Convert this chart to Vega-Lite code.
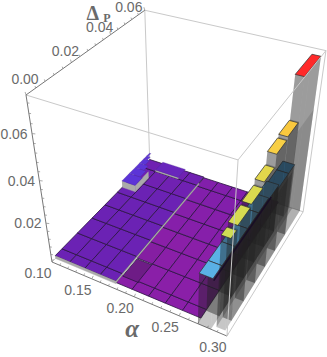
{"$schema":"https://vega.github.io/schema/vega-lite/v6.json","width":327,"height":357,"padding":0,"autosize":"none","background":"white","config":{"view":{"stroke":null}},
"datasets":{
"edgesLight":[{"e":1,"alpha":0.1,"P":0,"delta":0.075},{"e":1,"alpha":0.3,"P":0,"delta":0.075},{"e":2,"alpha":0.1,"P":0.06,"delta":0.075},{"e":2,"alpha":0.3,"P":0.06,"delta":0.075},{"e":3,"alpha":0.1,"P":0.06,"delta":0.075},{"e":3,"alpha":0.1,"P":0.06,"delta":0},{"e":4,"alpha":0.1,"P":0,"delta":0},{"e":4,"alpha":0.1,"P":0.06,"delta":0},{"e":5,"alpha":0.1,"P":0.06,"delta":0},{"e":5,"alpha":0.3,"P":0.06,"delta":0}],
"edgesFront":[{"e":1,"alpha":0.3,"P":0,"delta":0.075},{"e":1,"alpha":0.3,"P":0.06,"delta":0.075},{"e":2,"alpha":0.3,"P":0.06,"delta":0.075},{"e":2,"alpha":0.3,"P":0.06,"delta":0},{"e":3,"alpha":0.3,"P":0.06,"delta":0},{"e":3,"alpha":0.3,"P":0,"delta":0},{"e":4,"alpha":0.3,"P":0,"delta":0},{"e":4,"alpha":0.3,"P":0,"delta":0.075}],
"edgesAxis":[{"e":1,"alpha":0.1,"P":0,"delta":0.075},{"e":1,"alpha":0.1,"P":0.06,"delta":0.075},{"e":2,"alpha":0.1,"P":0,"delta":0.075},{"e":2,"alpha":0.1,"P":0,"delta":0},{"e":3,"alpha":0.1,"P":0,"delta":0},{"e":3,"alpha":0.3,"P":0,"delta":0}],
"darkEdge":[{"alpha":0.2836,"P":0.0005,"delta":0.0235},{"alpha":0.2836,"P":0.04,"delta":0.0235}],
"ticks":[
{"axis":"P","value":0,"major":true,"label":"0.00"},{"axis":"P","value":0.004,"major":false},{"axis":"P","value":0.008,"major":false},{"axis":"P","value":0.012,"major":false},{"axis":"P","value":0.016,"major":false},{"axis":"P","value":0.02,"major":true,"label":"0.02"},{"axis":"P","value":0.024,"major":false},{"axis":"P","value":0.028,"major":false},{"axis":"P","value":0.032,"major":false},{"axis":"P","value":0.036,"major":false},{"axis":"P","value":0.04,"major":true,"label":"0.04"},{"axis":"P","value":0.044,"major":false},{"axis":"P","value":0.048,"major":false},{"axis":"P","value":0.052,"major":false},{"axis":"P","value":0.056,"major":false},{"axis":"P","value":0.06,"major":true,"label":"0.06"},
{"axis":"z","value":0.004,"major":false},{"axis":"z","value":0.008,"major":false},{"axis":"z","value":0.012,"major":false},{"axis":"z","value":0.016,"major":false},{"axis":"z","value":0.02,"major":true,"label":"0.02"},{"axis":"z","value":0.024,"major":false},{"axis":"z","value":0.028,"major":false},{"axis":"z","value":0.032,"major":false},{"axis":"z","value":0.036,"major":false},{"axis":"z","value":0.04,"major":true,"label":"0.04"},{"axis":"z","value":0.044,"major":false},{"axis":"z","value":0.048,"major":false},{"axis":"z","value":0.052,"major":false},{"axis":"z","value":0.056,"major":false},{"axis":"z","value":0.06,"major":true,"label":"0.06"},{"axis":"z","value":0.064,"major":false},{"axis":"z","value":0.068,"major":false},{"axis":"z","value":0.072,"major":false},
{"axis":"alpha","value":0.1,"major":true,"label":"0.10"},{"axis":"alpha","value":0.11,"major":false},{"axis":"alpha","value":0.12,"major":false},{"axis":"alpha","value":0.13,"major":false},{"axis":"alpha","value":0.14,"major":false},{"axis":"alpha","value":0.15,"major":true,"label":"0.15"},{"axis":"alpha","value":0.16,"major":false},{"axis":"alpha","value":0.17,"major":false},{"axis":"alpha","value":0.18,"major":false},{"axis":"alpha","value":0.19,"major":false},{"axis":"alpha","value":0.2,"major":true,"label":"0.20"},{"axis":"alpha","value":0.21,"major":false},{"axis":"alpha","value":0.22,"major":false},{"axis":"alpha","value":0.23,"major":false},{"axis":"alpha","value":0.24,"major":false},{"axis":"alpha","value":0.25,"major":true,"label":"0.25"},{"axis":"alpha","value":0.26,"major":false},{"axis":"alpha","value":0.27,"major":false},{"axis":"alpha","value":0.28,"major":false},{"axis":"alpha","value":0.29,"major":false},{"axis":"alpha","value":0.3,"major":true,"label":"0.30"}],
"surface":[
{"a0":0.1,"a1":0.1188,"p0":0.0018,"p1":0.0054,"z":0.0014},{"a0":0.1188,"a1":0.1376,"p0":0.0018,"p1":0.0054,"z":0.0014},{"a0":0.1376,"a1":0.1564,"p0":0.0018,"p1":0.0054,"z":0.0014},{"a0":0.1564,"a1":0.1752,"p0":0.0018,"p1":0.0054,"z":0.0014},{"a0":0.1752,"a1":0.194,"p0":0.0018,"p1":0.0054,"z":0.0007},{"a0":0.194,"a1":0.2128,"p0":0.0018,"p1":0.0054,"z":0.0007},{"a0":0.2128,"a1":0.2316,"p0":0.0018,"p1":0.0054,"z":0.0007},{"a0":0.2316,"a1":0.2504,"p0":0.0018,"p1":0.0054,"z":0.0007},{"a0":0.2504,"a1":0.27,"p0":0.0018,"p1":0.0054,"z":0.0007},
{"a0":0.1,"a1":0.1188,"p0":0.0054,"p1":0.0138,"z":0.0014},{"a0":0.1188,"a1":0.1376,"p0":0.0054,"p1":0.0138,"z":0.0014},{"a0":0.1376,"a1":0.1564,"p0":0.0054,"p1":0.0138,"z":0.0014},{"a0":0.1564,"a1":0.1752,"p0":0.0054,"p1":0.0138,"z":0.0014},{"a0":0.1752,"a1":0.194,"p0":0.0054,"p1":0.0138,"z":0.0001},{"a0":0.194,"a1":0.2128,"p0":0.0054,"p1":0.0138,"z":0.0007},{"a0":0.2128,"a1":0.2316,"p0":0.0054,"p1":0.0138,"z":0.0007},{"a0":0.2316,"a1":0.2504,"p0":0.0054,"p1":0.0138,"z":0.0007},{"a0":0.2504,"a1":0.27,"p0":0.0054,"p1":0.0138,"z":0.0007},
{"a0":0.1,"a1":0.1188,"p0":0.0138,"p1":0.0222,"z":0.0014},{"a0":0.1188,"a1":0.1376,"p0":0.0138,"p1":0.0222,"z":0.0014},{"a0":0.1376,"a1":0.1564,"p0":0.0138,"p1":0.0222,"z":0.0014},{"a0":0.1564,"a1":0.1752,"p0":0.0138,"p1":0.0222,"z":0.0014},{"a0":0.1752,"a1":0.194,"p0":0.0138,"p1":0.0222,"z":0.0006},{"a0":0.194,"a1":0.2128,"p0":0.0138,"p1":0.0222,"z":0.0007},{"a0":0.2128,"a1":0.2316,"p0":0.0138,"p1":0.0222,"z":0.0007},{"a0":0.2316,"a1":0.2504,"p0":0.0138,"p1":0.0222,"z":0.0007},{"a0":0.2504,"a1":0.27,"p0":0.0138,"p1":0.0222,"z":0.0007},
{"a0":0.1,"a1":0.1188,"p0":0.0222,"p1":0.03,"z":0.0014},{"a0":0.1188,"a1":0.1376,"p0":0.0222,"p1":0.03,"z":0.0014},{"a0":0.1376,"a1":0.1564,"p0":0.0222,"p1":0.03,"z":0.0014},{"a0":0.1564,"a1":0.1752,"p0":0.0222,"p1":0.03,"z":0.0014},{"a0":0.1752,"a1":0.194,"p0":0.0222,"p1":0.03,"z":0.0007},{"a0":0.194,"a1":0.2128,"p0":0.0222,"p1":0.03,"z":0.0007},{"a0":0.2128,"a1":0.2316,"p0":0.0222,"p1":0.03,"z":0.0007},{"a0":0.2316,"a1":0.2504,"p0":0.0222,"p1":0.03,"z":0.0007},{"a0":0.2504,"a1":0.27,"p0":0.0222,"p1":0.03,"z":0.0007},
{"a0":0.1,"a1":0.1188,"p0":0.03,"p1":0.0378,"z":0.0014},{"a0":0.1188,"a1":0.1376,"p0":0.03,"p1":0.0378,"z":0.0014},{"a0":0.1376,"a1":0.1564,"p0":0.03,"p1":0.0378,"z":0.0014},{"a0":0.1564,"a1":0.1752,"p0":0.03,"p1":0.0378,"z":0.0014},{"a0":0.1752,"a1":0.194,"p0":0.03,"p1":0.0378,"z":0.0008},{"a0":0.194,"a1":0.2128,"p0":0.03,"p1":0.0378,"z":0.0008},{"a0":0.2128,"a1":0.2316,"p0":0.03,"p1":0.0378,"z":0.0008},{"a0":0.2316,"a1":0.2504,"p0":0.03,"p1":0.0378,"z":0.0008},{"a0":0.2504,"a1":0.27,"p0":0.03,"p1":0.0378,"z":0.0008},
{"a0":0.1,"a1":0.1188,"p0":0.0378,"p1":0.0462,"z":0.0014},{"a0":0.1188,"a1":0.1376,"p0":0.0378,"p1":0.0462,"z":0.0014},{"a0":0.1376,"a1":0.1564,"p0":0.0378,"p1":0.0462,"z":0.0014},{"a0":0.1564,"a1":0.1752,"p0":0.0378,"p1":0.0462,"z":0.0014},{"a0":0.1752,"a1":0.194,"p0":0.0378,"p1":0.0462,"z":0.0008},{"a0":0.194,"a1":0.2128,"p0":0.0378,"p1":0.0462,"z":0.0008},{"a0":0.2128,"a1":0.2316,"p0":0.0378,"p1":0.0462,"z":0.0008},{"a0":0.2316,"a1":0.2504,"p0":0.0378,"p1":0.0462,"z":0.0008},{"a0":0.2504,"a1":0.27,"p0":0.0378,"p1":0.0462,"z":0.0008},
{"a0":0.1,"a1":0.1188,"p0":0.0462,"p1":0.0546,"z":0.0013},{"a0":0.1188,"a1":0.1376,"p0":0.0462,"p1":0.0546,"z":0.0013},{"a0":0.1376,"a1":0.1564,"p0":0.0462,"p1":0.0546,"z":0.0013},{"a0":0.1564,"a1":0.1752,"p0":0.0462,"p1":0.0546,"z":0.0013},{"a0":0.1752,"a1":0.194,"p0":0.0462,"p1":0.0546,"z":0.0009},{"a0":0.194,"a1":0.2128,"p0":0.0462,"p1":0.0546,"z":0.0009},{"a0":0.2128,"a1":0.2316,"p0":0.0462,"p1":0.0546,"z":0.0009},{"a0":0.2316,"a1":0.2504,"p0":0.0462,"p1":0.0546,"z":0.0009},{"a0":0.2504,"a1":0.27,"p0":0.0462,"p1":0.0546,"z":0.0009},
{"a0":0.1,"a1":0.1188,"p0":0.0546,"p1":0.06,"z":0.0013},{"a0":0.1188,"a1":0.1376,"p0":0.0546,"p1":0.06,"z":0.0013},{"a0":0.1376,"a1":0.1564,"p0":0.0546,"p1":0.06,"z":0.0013},{"a0":0.1564,"a1":0.1752,"p0":0.0546,"p1":0.06,"z":0.0013},{"a0":0.1752,"a1":0.194,"p0":0.0546,"p1":0.06,"z":0.0009},{"a0":0.194,"a1":0.2128,"p0":0.0546,"p1":0.06,"z":0.0009},{"a0":0.2128,"a1":0.2316,"p0":0.0546,"p1":0.06,"z":0.0009},{"a0":0.2316,"a1":0.2504,"p0":0.0546,"p1":0.06,"z":0.0009},{"a0":0.2504,"a1":0.27,"p0":0.0546,"p1":0.06,"z":0.0009}],
"skirts":[
{"a0":0.1,"a1":0.1752,"p0":0.0018,"p1":0.0018,"z0":0,"z1":0.0014},
{"a0":0.1752,"a1":0.1752,"p0":0.0018,"p1":0.056,"z0":0.0006,"z1":0.0014},
{"a0":0.1,"a1":0.118,"p0":0.041,"p1":0.041,"z0":0.0014,"z1":0.0049},
{"a0":0.118,"a1":0.118,"p0":0.041,"p1":0.05,"z0":0.0014,"z1":0.0049},
{"a0":0.1188,"a1":0.15,"p0":0.0546,"p1":0.0546,"z0":0.0013,"z1":0.0022}],
"shade":[
{"a0":0.2836,"a1":0.2836,"p0":0.0054,"p1":0.046,"z0":0,"z1":0.025,"o":0.5},
{"a0":0.296,"a1":0.296,"p0":0.0054,"p1":0.046,"z0":0,"z1":0.032,"o":0.3},
{"a0":0.296,"a1":0.296,"p0":0.046,"p1":0.06,"z0":0,"z1":0.05,"o":0.12}],
"raised":[
{"a0":0.1,"a1":0.118,"p0":0.041,"p1":0.046,"z":0.0049},{"a0":0.1,"a1":0.115,"p0":0.046,"p1":0.05,"z":0.0049},{"a0":0.1,"a1":0.112,"p0":0.05,"p1":0.053,"z":0.0049},{"a0":0.1,"a1":0.108,"p0":0.053,"p1":0.056,"z":0.0049},{"a0":0.1,"a1":0.105,"p0":0.056,"p1":0.058,"z":0.0049},{"a0":0.1,"a1":0.102,"p0":0.058,"p1":0.06,"z":0.0049},{"a0":0.1188,"a1":0.15,"p0":0.0546,"p1":0.06,"z":0.0022}],
"bars":[
{"a0":0.27,"a1":0.2836,"p0":0.0546,"p1":0.06,"z":0.0225},{"a0":0.27,"a1":0.2836,"p0":0.0462,"p1":0.0546,"z":0.0225},{"a0":0.27,"a1":0.2836,"p0":0.0378,"p1":0.0462,"z":0.024},{"a0":0.27,"a1":0.2836,"p0":0.03,"p1":0.0378,"z":0.025},{"a0":0.27,"a1":0.2836,"p0":0.0222,"p1":0.03,"z":0.025},{"a0":0.27,"a1":0.2836,"p0":0.0138,"p1":0.0222,"z":0.025},{"a0":0.27,"a1":0.2836,"p0":0.0054,"p1":0.0138,"z":0.025},{"a0":0.27,"a1":0.2836,"p0":0,"p1":0.0054,"z":0.025},
{"a0":0.287,"a1":0.296,"p0":0.0465,"p1":0.06,"z":0.0724},{"a0":0.287,"a1":0.296,"p0":0.0378,"p1":0.0465,"z":0.0541},{"a0":0.287,"a1":0.296,"p0":0.0298,"p1":0.0378,"z":0.053},{"a0":0.287,"a1":0.296,"p0":0.022,"p1":0.0298,"z":0.0478},{"a0":0.287,"a1":0.296,"p0":0.0138,"p1":0.022,"z":0.0457},{"a0":0.287,"a1":0.296,"p0":0.0055,"p1":0.0138,"z":0.0447},{"a0":0.287,"a1":0.296,"p0":0.0015,"p1":0.0055,"z":0.0432}]
},
"layer":[
{"data":{"name":"edgesLight"},"transform":[
{"calculate":"(datum.alpha-0.1)/0.2","as":"u"},{"calculate":"datum.P/0.06","as":"v"},{"calculate":"datum.delta/0.075","as":"w"},
{"calculate":"1-0.114*datum.u+0.197*datum.v-0.169*datum.w","as":"d"},
{"calculate":"52+(155*datum.u+117*datum.v-21.6*datum.w)/datum.d","as":"px"},
{"calculate":"262+(65.6*datum.u-120*datum.v-138.8*datum.w)/datum.d","as":"py"}],
"mark":{"type":"line","stroke":"#c9c9c9","strokeWidth":1},
"encoding":{"x":{"field":"px","type":"quantitative","scale":{"domain":[0,327],"nice":false,"zero":false},"axis":null},"y":{"field":"py","type":"quantitative","scale":{"domain":[357,0],"nice":false,"zero":false},"axis":null},"detail":{"field":"e"}}},
{"data":{"name":"edgesAxis"},"transform":[
{"calculate":"(datum.alpha-0.1)/0.2","as":"u"},{"calculate":"datum.P/0.06","as":"v"},{"calculate":"datum.delta/0.075","as":"w"},
{"calculate":"1-0.114*datum.u+0.197*datum.v-0.169*datum.w","as":"d"},
{"calculate":"52+(155*datum.u+117*datum.v-21.6*datum.w)/datum.d","as":"px"},
{"calculate":"262+(65.6*datum.u-120*datum.v-138.8*datum.w)/datum.d","as":"py"}],
"mark":{"type":"line","stroke":"#777777","strokeWidth":1},
"encoding":{"x":{"field":"px","type":"quantitative","axis":null},"y":{"field":"py","type":"quantitative","axis":null},"detail":{"field":"e"}}},
{"data":{"name":"ticks"},"transform":[
{"calculate":"[0,1]","as":"t"},{"flatten":["t"]},
{"calculate":"datum.axis=='alpha'?datum.value:0.1","as":"alpha"},{"calculate":"datum.axis=='P'?datum.value:0","as":"P"},{"calculate":"datum.axis=='z'?datum.value:(datum.axis=='P'?0.075:0)","as":"delta"},
{"calculate":"(datum.alpha-0.1)/0.2","as":"u"},{"calculate":"datum.P/0.06","as":"v"},{"calculate":"datum.delta/0.075","as":"w"},
{"calculate":"1-0.114*datum.u+0.197*datum.v-0.169*datum.w","as":"d"},
{"calculate":"(datum.major?1.5:1)*datum.t*(datum.axis=='z'?2.2:(datum.axis=='P'?-0.6:0.9))","as":"ox"},
{"calculate":"(datum.major?1.5:1)*datum.t*(datum.axis=='z'?0.2:-2)","as":"oy"},
{"calculate":"52+(155*datum.u+117*datum.v-21.6*datum.w)/datum.d+datum.ox","as":"px"},
{"calculate":"262+(65.6*datum.u-120*datum.v-138.8*datum.w)/datum.d+datum.oy","as":"py"},
{"calculate":"datum.axis+datum.value","as":"key"}],
"mark":{"type":"line","stroke":"#888888","strokeWidth":0.7},
"encoding":{"x":{"field":"px","type":"quantitative","axis":null},"y":{"field":"py","type":"quantitative","axis":null},"detail":{"field":"key"},"order":{"field":"t"}}},
{"data":{"name":"surface"},"transform":[
{"calculate":"[0,1,2,3,4]","as":"c"},{"flatten":["c"]},
{"calculate":"(datum.c==1||datum.c==2)?datum.a1:datum.a0","as":"alpha"},{"calculate":"(datum.c==2||datum.c==3)?datum.p1:datum.p0","as":"P"},
{"calculate":"(datum.alpha-0.1)/0.2","as":"u"},{"calculate":"datum.P/0.06","as":"v"},{"calculate":"datum.z/0.075","as":"w"},
{"calculate":"1-0.114*datum.u+0.197*datum.v-0.169*datum.w","as":"d"},
{"calculate":"52+(155*datum.u+117*datum.v-21.6*datum.w)/datum.d","as":"px"},
{"calculate":"262+(65.6*datum.u-120*datum.v-138.8*datum.w)/datum.d","as":"py"}],
"mark":{"type":"line","stroke":"#2a1440","strokeWidth":0.8},
"encoding":{"x":{"field":"px","type":"quantitative","axis":null},"y":{"field":"py","type":"quantitative","axis":null},"detail":[{"field":"a0"},{"field":"p0"}],"order":{"field":"c"},
"fill":{"field":"z","type":"quantitative","legend":null,"scale":{"domain":[0,0.0007,0.0014,0.005,0.025,0.043,0.053,0.0724],"range":["#6a1b80","#8a1fa8","#6b22b4","#5b35d8","#5ab0e5","#cfdd55","#f8cf45","#ff2a2a"]}}}},
{"data":{"name":"skirts"},"transform":[
{"calculate":"[0,1,2,3]","as":"c"},{"flatten":["c"]},
{"calculate":"(datum.c==1||datum.c==2)?datum.a1:datum.a0","as":"alpha"},{"calculate":"(datum.c==1||datum.c==2)?datum.p1:datum.p0","as":"P"},{"calculate":"datum.c<2?datum.z1:datum.z0","as":"delta"},
{"calculate":"(datum.alpha-0.1)/0.2","as":"u"},{"calculate":"datum.P/0.06","as":"v"},{"calculate":"datum.delta/0.075","as":"w"},
{"calculate":"1-0.114*datum.u+0.197*datum.v-0.169*datum.w","as":"d"},
{"calculate":"52+(155*datum.u+117*datum.v-21.6*datum.w)/datum.d","as":"px"},
{"calculate":"262+(65.6*datum.u-120*datum.v-138.8*datum.w)/datum.d","as":"py"}],
"mark":{"type":"line","fill":"#aaaaaa","stroke":"#aaaaaa","strokeWidth":0.4},
"encoding":{"x":{"field":"px","type":"quantitative","axis":null},"y":{"field":"py","type":"quantitative","axis":null},"detail":[{"field":"a0"},{"field":"p0"}],"order":{"field":"c"}}},
{"data":{"name":"raised"},"transform":[
{"calculate":"[0,1,2,3,4]","as":"c"},{"flatten":["c"]},
{"calculate":"(datum.c==1||datum.c==2)?datum.a1:datum.a0","as":"alpha"},{"calculate":"(datum.c==2||datum.c==3)?datum.p1:datum.p0","as":"P"},
{"calculate":"(datum.alpha-0.1)/0.2","as":"u"},{"calculate":"datum.P/0.06","as":"v"},{"calculate":"datum.z/0.075","as":"w"},
{"calculate":"1-0.114*datum.u+0.197*datum.v-0.169*datum.w","as":"d"},
{"calculate":"52+(155*datum.u+117*datum.v-21.6*datum.w)/datum.d","as":"px"},
{"calculate":"262+(65.6*datum.u-120*datum.v-138.8*datum.w)/datum.d","as":"py"}],
"mark":{"type":"line","stroke":"#4a2a90","strokeWidth":0.3},
"encoding":{"x":{"field":"px","type":"quantitative","axis":null},"y":{"field":"py","type":"quantitative","axis":null},"detail":[{"field":"a0"},{"field":"p0"}],"order":{"field":"c"},
"fill":{"field":"z","type":"quantitative","legend":null}}},
{"data":{"name":"shade"},"transform":[
{"calculate":"[0,1,2,3]","as":"c"},{"flatten":["c"]},
{"calculate":"(datum.c==1||datum.c==2)?datum.a1:datum.a0","as":"alpha"},{"calculate":"(datum.c==1||datum.c==2)?datum.p1:datum.p0","as":"P"},{"calculate":"datum.c<2?datum.z1:datum.z0","as":"delta"},
{"calculate":"(datum.alpha-0.1)/0.2","as":"u"},{"calculate":"datum.P/0.06","as":"v"},{"calculate":"datum.delta/0.075","as":"w"},
{"calculate":"1-0.114*datum.u+0.197*datum.v-0.169*datum.w","as":"d"},
{"calculate":"52+(155*datum.u+117*datum.v-21.6*datum.w)/datum.d","as":"px"},
{"calculate":"262+(65.6*datum.u-120*datum.v-138.8*datum.w)/datum.d","as":"py"}],
"mark":{"type":"line","fill":"#111111","stroke":"transparent"},
"encoding":{"x":{"field":"px","type":"quantitative","axis":null},"y":{"field":"py","type":"quantitative","axis":null},"detail":[{"field":"a0"},{"field":"p0"}],"order":{"field":"c"},"opacity":{"field":"o","type":"quantitative","scale":null}}},
{"data":{"name":"bars"},"transform":[
{"calculate":"[0,1,4,2,3]","as":"f"},{"flatten":["f"]},
{"calculate":"[0,1,2,3,4]","as":"c"},{"flatten":["c"]},
{"calculate":"datum.f==0?datum.a0:(datum.f==3?datum.a1:((datum.c==1||datum.c==2)?datum.a1:datum.a0))","as":"alpha"},
{"calculate":"datum.f==1?datum.p1:(datum.f==2?datum.p0:(datum.f==4?((datum.c==2||datum.c==3)?datum.p1-(datum.a0>0.285&&datum.z<0.06?0.0006:0):datum.p0):((datum.c==1||datum.c==2)?datum.p1:datum.p0)))","as":"P"},
{"calculate":"datum.f==4?datum.z:((datum.c==2||datum.c==3)?0:datum.z)","as":"delta"},
{"calculate":"(datum.alpha-0.1)/0.2","as":"u"},{"calculate":"datum.P/0.06","as":"v"},{"calculate":"datum.delta/0.075","as":"w"},
{"calculate":"1-0.114*datum.u+0.197*datum.v-0.169*datum.w","as":"d"},
{"calculate":"52+(155*datum.u+117*datum.v-21.6*datum.w)/datum.d","as":"px"},
{"calculate":"262+(65.6*datum.u-120*datum.v-138.8*datum.w)/datum.d","as":"py"}],
"mark":{"type":"line","strokeWidth":0.7},
"encoding":{"x":{"field":"px","type":"quantitative","axis":null},"y":{"field":"py","type":"quantitative","axis":null},"detail":[{"field":"a0"},{"field":"p0"},{"field":"f"}],"order":{"field":"c"},
"fill":{"condition":{"test":"datum.f<4","value":"#222222"},"field":"z","type":"quantitative","legend":null},
"opacity":{"condition":{"test":"datum.f<4","value":0.25},"value":1},
"stroke":{"condition":{"test":"datum.f<4","value":"transparent"},"value":"#333333"}}},
{"data":{"name":"darkEdge"},"transform":[
{"calculate":"(datum.alpha-0.1)/0.2","as":"u"},{"calculate":"datum.P/0.06","as":"v"},{"calculate":"datum.delta/0.075","as":"w"},
{"calculate":"1-0.114*datum.u+0.197*datum.v-0.169*datum.w","as":"d"},
{"calculate":"52+(155*datum.u+117*datum.v-21.6*datum.w)/datum.d","as":"px"},
{"calculate":"262+(65.6*datum.u-120*datum.v-138.8*datum.w)/datum.d","as":"py"}],
"mark":{"type":"line","stroke":"#160a26","strokeWidth":1.6,"opacity":0.85},
"encoding":{"x":{"field":"px","type":"quantitative","axis":null},"y":{"field":"py","type":"quantitative","axis":null}}},
{"data":{"name":"edgesFront"},"transform":[
{"calculate":"(datum.alpha-0.1)/0.2","as":"u"},{"calculate":"datum.P/0.06","as":"v"},{"calculate":"datum.delta/0.075","as":"w"},
{"calculate":"1-0.114*datum.u+0.197*datum.v-0.169*datum.w","as":"d"},
{"calculate":"52+(155*datum.u+117*datum.v-21.6*datum.w)/datum.d","as":"px"},
{"calculate":"262+(65.6*datum.u-120*datum.v-138.8*datum.w)/datum.d","as":"py"}],
"mark":{"type":"line","stroke":"#c9c9c9","strokeWidth":1},
"encoding":{"x":{"field":"px","type":"quantitative","axis":null},"y":{"field":"py","type":"quantitative","axis":null},"detail":{"field":"e"}}},
{"data":{"name":"ticks"},"transform":[
{"filter":"datum.major"},
{"calculate":"datum.axis=='alpha'?datum.value:0.1","as":"alpha"},{"calculate":"datum.axis=='P'?datum.value:0","as":"P"},{"calculate":"datum.axis=='z'?datum.value:(datum.axis=='P'?0.075:0)","as":"delta"},
{"calculate":"(datum.alpha-0.1)/0.2","as":"u"},{"calculate":"datum.P/0.06","as":"v"},{"calculate":"datum.delta/0.075","as":"w"},
{"calculate":"1-0.114*datum.u+0.197*datum.v-0.169*datum.w","as":"d"},
{"calculate":"52+(155*datum.u+117*datum.v-21.6*datum.w)/datum.d+(datum.axis=='z'?-18:(datum.axis=='alpha'?-14:-1-15*datum.v))","as":"px"},
{"calculate":"262+(65.6*datum.u-120*datum.v-138.8*datum.w)/datum.d+(datum.axis=='z'?1:(datum.axis=='alpha'?12:-15+13*datum.v))","as":"py"}],
"mark":{"type":"text","font":"Liberation Sans","fontSize":14,"fill":"#6a6a6a","align":"center","baseline":"middle"},
"encoding":{"x":{"field":"px","type":"quantitative","axis":null},"y":{"field":"py","type":"quantitative","axis":null},"text":{"field":"label"}}},
{"data":{"values":[{"alpha":0.1,"P":0.044,"delta":0.075,"label":"Δ"}]},"transform":[
{"calculate":"(datum.alpha-0.1)/0.2","as":"u"},{"calculate":"datum.P/0.06","as":"v"},{"calculate":"datum.delta/0.075","as":"w"},
{"calculate":"1-0.114*datum.u+0.197*datum.v-0.169*datum.w","as":"d"},
{"calculate":"52+(155*datum.u+117*datum.v-21.6*datum.w)/datum.d-25","as":"px"},
{"calculate":"262+(65.6*datum.u-120*datum.v-138.8*datum.w)/datum.d-15","as":"py"}],
"mark":{"type":"text","font":"Liberation Serif","fontWeight":"bold","fontSize":20,"fill":"#6a6a6a","align":"center","baseline":"middle"},
"encoding":{"x":{"field":"px","type":"quantitative","axis":null},"y":{"field":"py","type":"quantitative","axis":null},"text":{"field":"label"}}},
{"data":{"values":[{"alpha":0.1,"P":0.044,"delta":0.075,"label":"P"}]},"transform":[
{"calculate":"(datum.alpha-0.1)/0.2","as":"u"},{"calculate":"datum.P/0.06","as":"v"},{"calculate":"datum.delta/0.075","as":"w"},
{"calculate":"1-0.114*datum.u+0.197*datum.v-0.169*datum.w","as":"d"},
{"calculate":"52+(155*datum.u+117*datum.v-21.6*datum.w)/datum.d-11","as":"px"},
{"calculate":"262+(65.6*datum.u-120*datum.v-138.8*datum.w)/datum.d-11","as":"py"}],
"mark":{"type":"text","font":"Liberation Serif","fontWeight":"bold","fontSize":12,"fill":"#6a6a6a","align":"center","baseline":"middle"},
"encoding":{"x":{"field":"px","type":"quantitative","axis":null},"y":{"field":"py","type":"quantitative","axis":null},"text":{"field":"label"}}},
{"data":{"values":[{"alpha":0.2,"P":0,"delta":0,"label":"α"}]},"transform":[
{"calculate":"(datum.alpha-0.1)/0.2","as":"u"},{"calculate":"datum.P/0.06","as":"v"},{"calculate":"datum.delta/0.075","as":"w"},
{"calculate":"1-0.114*datum.u+0.197*datum.v-0.169*datum.w","as":"d"},
{"calculate":"52+(155*datum.u+117*datum.v-21.6*datum.w)/datum.d-2","as":"px"},
{"calculate":"262+(65.6*datum.u-120*datum.v-138.8*datum.w)/datum.d+32","as":"py"}],
"mark":{"type":"text","font":"Liberation Serif","fontWeight":"bold","fontStyle":"italic","fontSize":25,"fill":"#6a6a6a","align":"center","baseline":"middle"},
"encoding":{"x":{"field":"px","type":"quantitative","axis":null},"y":{"field":"py","type":"quantitative","axis":null},"text":{"field":"label"}}}
]}
